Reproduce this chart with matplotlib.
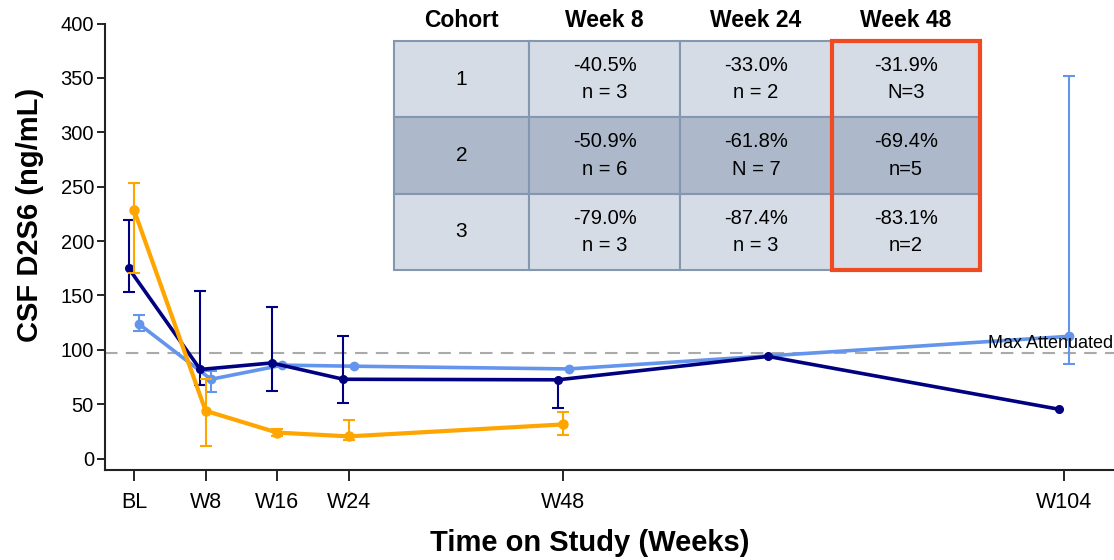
import numpy as np
import matplotlib
matplotlib.use("Agg")
import matplotlib.pyplot as plt
from matplotlib.patches import Rectangle

plt.rcParams['font.family'] = ['Liberation Sans', 'DejaVu Sans']

# x axis (weeks on study, BL = 0)
tick_weeks = [0, 8, 16, 24, 48, 104]
tick_labels = ['BL', 'W8', 'W16', 'W24', 'W48', 'W104']

# cohort 1 (light blue): mean, lower, upper; nan = no error bar
c1_weeks = [0, 8, 16, 24, 48, 104]
c1_mean = [123.5, 73, 86, 85, 82.5, 112.5]
c1_lo = [117.5, 61, np.nan, np.nan, np.nan, 87]
c1_hi = [132.5, 80.5, np.nan, np.nan, np.nan, 352]

# cohort 2 (navy)
c2_weeks = [0, 8, 16, 24, 48, 71.5, 104]
c2_mean = [175, 82, 88, 73, 72.5, 94, 45.5]
c2_lo = [153.5, 68, 62.5, 51.5, 46.5, np.nan, np.nan]
c2_hi = [219, 154, 139.5, 112.5, 72.5, np.nan, np.nan]

# cohort 3 (orange)
c3_weeks = [0, 8, 16, 24, 48]
c3_mean = [228.5, 44, 24, 20.5, 31.5]
c3_lo = [171, 12, 21, 17, 21.5]
c3_hi = [253.5, 73, 27, 35.5, 42.5]

max_attenuated = 97

# table values
cohorts = ['1', '2', '3']
pct_w8 = ['-40.5%', '-50.9%', '-79.0%']
n_w8 = ['n = 3', 'n = 6', 'n = 3']
pct_w24 = ['-33.0%', '-61.8%', '-87.4%']
n_w24 = ['n = 2', 'N = 7', 'n = 3']
pct_w48 = ['-31.9%', '-69.4%', '-83.1%']
n_w48 = ['N=3', 'n=5', 'n=2']
headers = ['Cohort', 'Week 8', 'Week 24', 'Week 48']

fig = plt.figure(figsize=(11.14, 5.6), dpi=100)
ax = fig.add_axes([105 / 1114, 1 - 470 / 560, 1 - 105 / 1114, (470 - 23.5) / 560])

series = [
    (c1_weeks, c1_mean, c1_lo, c1_hi, '#6495ED', 0.6, 2.6, 6, 2),
    (c2_weeks, c2_mean, c2_lo, c2_hi, '#000080', -0.6, 2.6, 5.5, 3),
    (c3_weeks, c3_mean, c3_lo, c3_hi, '#FFA500', 0.0, 3.0, 6.5, 4),
]
for wk, m, lo, hi, col, dx, lw, ms, z in series:
    m = np.array(m, float)
    err = np.array([m - np.array(lo, float), np.array(hi, float) - m])
    ax.errorbar(np.array(wk) + dx, m, yerr=err, color=col, lw=lw, marker='o',
                ms=ms, elinewidth=1.5, capsize=4, capthick=1.5, zorder=z)

ax.axhline(max_attenuated, color='#AAAAAA', lw=1.5, dashes=(6, 4), zorder=1)
ax.text(109.5, 106, 'Max Attenuated', ha='right', va='center', fontsize=13, zorder=5)

ax.set_xlim(-3.25, 109.6)
ax.set_ylim(-10.4, 400)
ax.set_xticks(tick_weeks)
ax.set_xticklabels(tick_labels, fontsize=15.5)
ax.set_yticks(range(0, 401, 50))
ax.tick_params(axis='y', labelsize=14.5, length=6, width=1.2, pad=2)
ax.tick_params(axis='x', length=8, width=1.2, pad=8)
for s in ['top', 'right']:
    ax.spines[s].set_visible(False)
for s in ['left', 'bottom']:
    ax.spines[s].set_linewidth(1.5)
    ax.spines[s].set_color('#222222')

ax.set_xlabel('Time on Study (Weeks)', fontsize=21, fontweight='bold')
ax.xaxis.set_label_coords((590 - 105) / 1009, -(543 - 470) / 446.5)
ax.set_ylabel('CSF D2S6 (ng/mL)', fontsize=21, fontweight='bold')
ax.yaxis.set_label_coords(-(105 - 30) / 1009, (470 - 215) / 446.5)
ax.xaxis.label.set_va('center')
ax.yaxis.label.set_va('center')

# inset table
tax = fig.add_axes([394 / 1114, 1 - 270 / 560, (980 - 394) / 1114, 270 / 560])
tax.axis('off')
rows = []
for i in range(3):
    rows.append([cohorts[i], pct_w8[i] + '\n' + n_w8[i],
                 pct_w24[i] + '\n' + n_w24[i], pct_w48[i] + '\n' + n_w48[i]])
tbl = tax.table(cellText=rows, colLabels=headers, bbox=[0, 0, 1, 1], cellLoc='center')
tbl.auto_set_font_size(False)
col_w = [135, 151, 152, 148]
row_h = [41, 76.3, 76.3, 76.4]
for (r, c), cell in tbl.get_celld().items():
    cell.set_width(col_w[c])
    cell.set_height(row_h[r])
    if r == 0:
        cell.set_linewidth(0)
        cell.set_facecolor('none')
        cell.get_text().set_fontsize(16.5)
        cell.get_text().set_fontweight('bold')
    else:
        cell.set_facecolor('#ADB9CA' if r == 2 else '#D6DCE5')
        cell.set_edgecolor('#8497B0')
        cell.set_linewidth(1.5)
        cell.get_text().set_fontsize(15 if c == 0 else 14.5)
        cell.get_text().set_linespacing(1.55)

tax.add_patch(Rectangle(((832 - 394) / 586, 0.0), (980 - 832) / 586, (270 - 41) / 270,
                        transform=tax.transAxes, fill=False, edgecolor='#F04A22',
                        lw=3, clip_on=False, zorder=10))

fig.savefig('out.png', dpi=100)
